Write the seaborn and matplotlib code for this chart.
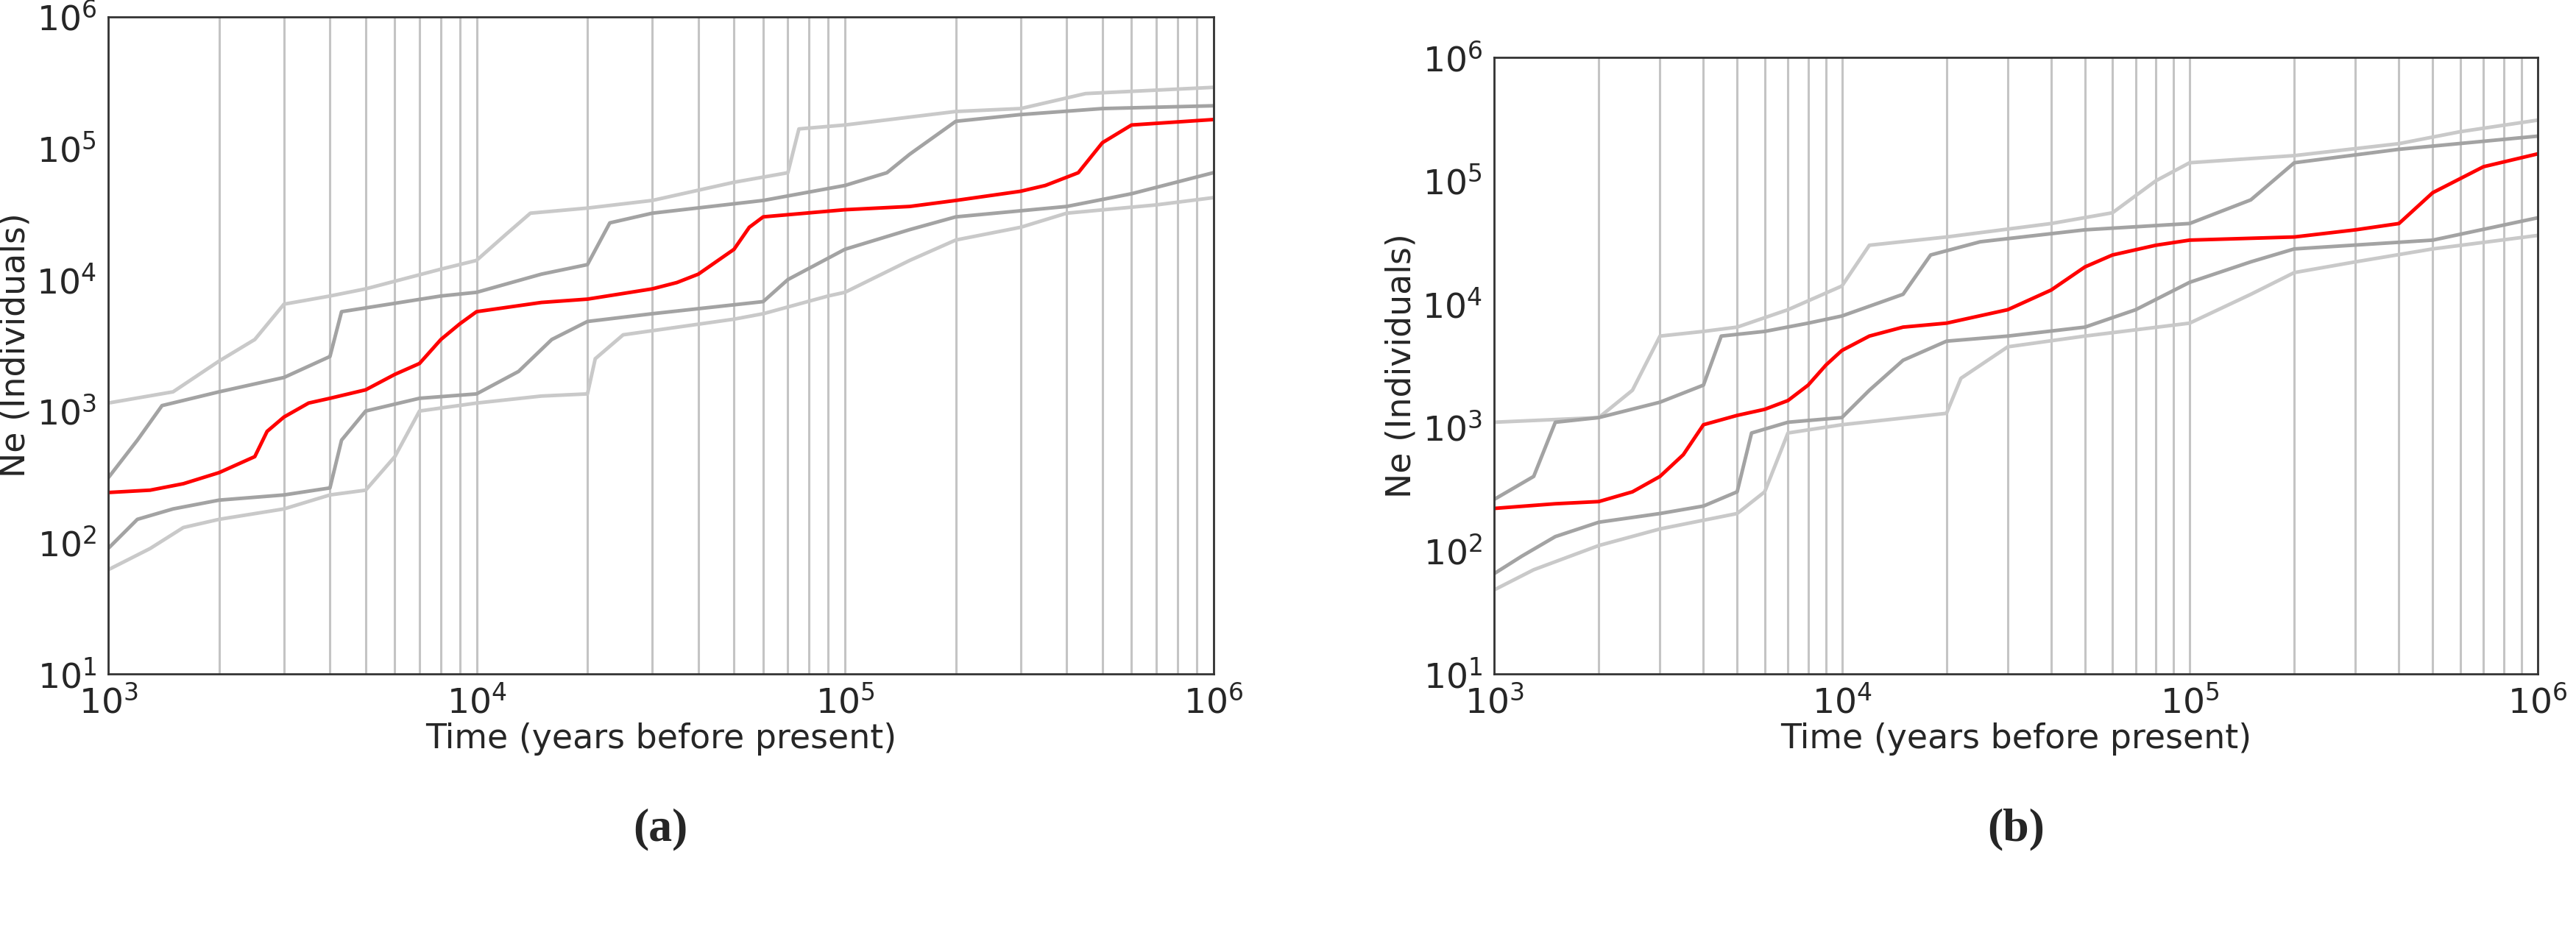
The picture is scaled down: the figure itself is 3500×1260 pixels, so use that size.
import numpy as np
import pandas as pd
import matplotlib
matplotlib.use("Agg")
import matplotlib.pyplot as plt
import seaborn as sns
from matplotlib.ticker import LogLocator, NullFormatter

# Panel (a)
a_red_t = [1e3, 1.3e3, 1.6e3, 2e3, 2.5e3, 2.7e3, 3e3, 3.5e3, 4e3, 5e3, 6e3, 7e3, 8e3, 9e3, 1e4, 1.5e4, 2e4, 3e4, 3.5e4, 4e4, 5e4, 5.5e4, 6e4, 1e5, 1.5e5, 2e5, 3e5, 3.5e5, 4.3e5, 5e5, 6e5, 1e6]
a_red_n = [240, 250, 280, 340, 450, 700, 900, 1150, 1250, 1450, 1900, 2300, 3500, 4600, 5700, 6700, 7100, 8500, 9500, 11000, 17000, 25000, 30000, 34000, 36000, 40000, 47000, 52000, 65000, 110000, 150000, 165000]
a_ud_t = [1e3, 1.2e3, 1.4e3, 2e3, 3e3, 4e3, 4.3e3, 6e3, 8e3, 1e4, 1.5e4, 2e4, 2.3e4, 3e4, 6e4, 1e5, 1.3e5, 1.5e5, 2e5, 3e5, 5e5, 1e6]
a_ud_n = [310, 600, 1100, 1400, 1800, 2600, 5700, 6600, 7500, 8000, 11000, 13000, 27000, 32000, 40000, 52000, 65000, 90000, 160000, 180000, 200000, 210000]
a_ul_t = [1e3, 1.5e3, 2e3, 2.5e3, 3e3, 4e3, 5e3, 8e3, 1e4, 1.2e4, 1.4e4, 2e4, 3e4, 5e4, 7e4, 7.5e4, 1e5, 2e5, 3e5, 4.5e5, 1e6]
a_ul_n = [1150, 1400, 2400, 3500, 6500, 7500, 8500, 12000, 14000, 22000, 32000, 35000, 40000, 55000, 65000, 140000, 150000, 190000, 200000, 260000, 290000]
a_ld_t = [1e3, 1.2e3, 1.5e3, 2e3, 3e3, 4e3, 4.3e3, 5e3, 7e3, 1e4, 1.3e4, 1.6e4, 2e4, 3e4, 6e4, 7e4, 1e5, 1.5e5, 2e5, 4e5, 6e5, 1e6]
a_ld_n = [90, 150, 180, 210, 230, 260, 600, 1000, 1250, 1350, 2000, 3500, 4800, 5500, 6800, 10000, 17000, 24000, 30000, 36000, 45000, 65000]
a_ll_t = [1e3, 1.3e3, 1.6e3, 2e3, 3e3, 4e3, 5e3, 6e3, 7e3, 1e4, 1.5e4, 2e4, 2.1e4, 2.5e4, 5e4, 6e4, 9e4, 1e5, 1.5e5, 2e5, 3e5, 4e5, 7e5, 1e6]
a_ll_n = [62, 90, 130, 150, 180, 230, 250, 450, 1000, 1150, 1300, 1350, 2500, 3800, 5000, 5500, 7500, 8000, 14000, 20000, 25000, 32000, 37000, 42000]

# Panel (b)
b_red_t = [1e3, 1.5e3, 2e3, 2.5e3, 3e3, 3.5e3, 4e3, 5e3, 6e3, 7e3, 8e3, 9e3, 1e4, 1.2e4, 1.5e4, 2e4, 3e4, 4e4, 5e4, 6e4, 8e4, 1e5, 2e5, 3e5, 4e5, 5e5, 7e5, 1e6]
b_red_n = [220, 240, 250, 300, 400, 600, 1050, 1250, 1400, 1650, 2200, 3200, 4200, 5500, 6500, 7000, 9000, 13000, 20000, 25000, 30000, 33000, 35000, 40000, 45000, 80000, 130000, 165000]
b_ud_t = [1e3, 1.3e3, 1.5e3, 2e3, 3e3, 4e3, 4.5e3, 6e3, 8e3, 1e4, 1.5e4, 1.8e4, 2.5e4, 5e4, 1e5, 1.5e5, 2e5, 4e5, 1e6]
b_ud_n = [260, 400, 1100, 1200, 1600, 2200, 5500, 6000, 7000, 8000, 12000, 25000, 32000, 40000, 45000, 70000, 140000, 180000, 230000]
b_ul_t = [1e3, 2e3, 2.5e3, 3e3, 4e3, 5e3, 7e3, 1e4, 1.2e4, 2e4, 4e4, 6e4, 8e4, 1e5, 2e5, 4e5, 6e5, 1e6]
b_ul_n = [1100, 1200, 2000, 5500, 6000, 6500, 9000, 14000, 30000, 35000, 45000, 55000, 100000, 140000, 160000, 200000, 250000, 310000]
b_ld_t = [1e3, 1.2e3, 1.5e3, 2e3, 3e3, 4e3, 5e3, 5.5e3, 7e3, 1e4, 1.2e4, 1.5e4, 2e4, 3e4, 5e4, 7e4, 1e5, 1.5e5, 2e5, 5e5, 1e6]
b_ld_n = [65, 90, 130, 170, 200, 230, 300, 900, 1100, 1200, 2000, 3500, 5000, 5500, 6500, 9000, 15000, 22000, 28000, 33000, 50000]
b_ll_t = [1e3, 1.3e3, 2e3, 3e3, 5e3, 6e3, 7e3, 1e4, 2e4, 2.2e4, 3e4, 5e4, 1e5, 1.5e5, 2e5, 3e5, 5e5, 1e6]
b_ll_n = [48, 70, 110, 150, 200, 300, 900, 1050, 1300, 2500, 4500, 5500, 7000, 12000, 18000, 22000, 28000, 36000]

RED, DARK, LIGHT = "#ff0000", "#a3a3a3", "#c9c9c9"

# label, [left, bottom, width, height]
panels = [
    ("(a)", [0.042, 0.273, 0.429, 0.709],
     [(a_ll_t, a_ll_n, LIGHT), (a_ul_t, a_ul_n, LIGHT), (a_ld_t, a_ld_n, DARK),
      (a_ud_t, a_ud_n, DARK), (a_red_t, a_red_n, RED)]),
    ("(b)", [0.58, 0.273, 0.405, 0.665],
     [(b_ll_t, b_ll_n, LIGHT), (b_ul_t, b_ul_n, LIGHT), (b_ld_t, b_ld_n, DARK),
      (b_ud_t, b_ud_n, DARK), (b_red_t, b_red_n, RED)]),
]

sns.set_style("white")
plt.rcParams['font.family'] = ['DejaVu Sans']
fig = plt.figure(figsize=(35, 12.6), dpi=100)

for label, rect, curves in panels:
    ax = fig.add_axes(rect)
    for t, n, c in curves:
        df = pd.DataFrame({"t": t, "n": n})
        sns.lineplot(data=df, x="t", y="n", color=c, lw=3.5, ax=ax,
                     estimator=None, sort=True)
    ax.set_xscale("log")
    ax.set_yscale("log")
    ax.set_xlim(1e3, 1e6)
    ax.set_ylim(10, 1e6)
    ax.xaxis.set_minor_locator(LogLocator(base=10, subs=np.arange(2, 10)))
    ax.xaxis.set_minor_formatter(NullFormatter())
    ax.yaxis.set_minor_locator(matplotlib.ticker.NullLocator())
    ax.grid(True, which="both", axis="x", color="#c4c4c4", lw=2.2)
    ax.tick_params(labelsize=34, length=8, width=2)
    for s in ax.spines.values():
        s.set_color("#333333")
        s.set_linewidth(2)
    ax.set_xlabel("Time (years before present)", fontsize=33, labelpad=2)
    ax.set_ylabel("Ne (Individuals)", fontsize=33, labelpad=4)
    fig.text(rect[0] + rect[2] / 2, 0.105, label, ha="center", va="center",
             fontsize=46, family="Liberation Serif", weight="bold")

fig.savefig("out.png", dpi=100)
